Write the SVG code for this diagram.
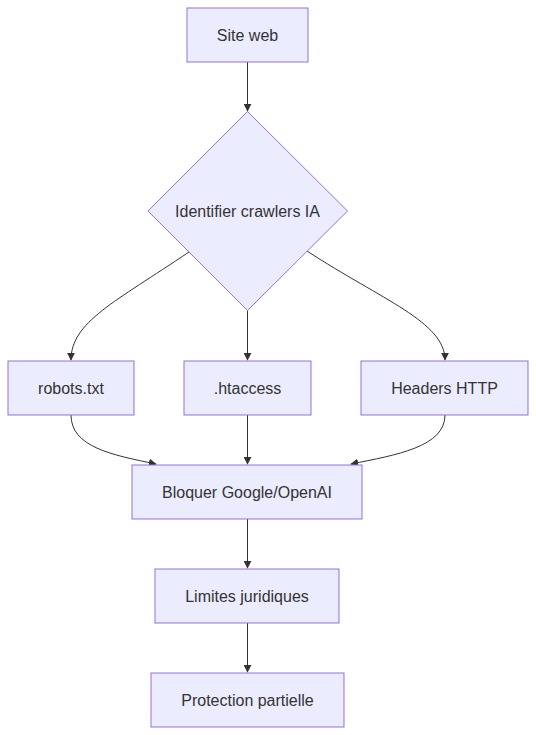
<svg xmlns="http://www.w3.org/2000/svg" width="536" height="735" viewBox="0 0 536 735">
<defs>
<style>
.node rect, .node polygon { fill: #ECECFF; stroke: #9370DB; stroke-width: 1; }
.node text { font-family: "Liberation Sans", Arial, sans-serif; font-size: 16px; fill: #333333; text-anchor: middle; dominant-baseline: central; }
.edge { fill: none; stroke: #333333; stroke-width: 1; }
</style>
<marker id="arrow" viewBox="0 0 10 10" refX="9" refY="5" markerWidth="8" markerHeight="8" markerUnits="userSpaceOnUse" orient="auto">
<path d="M0,0 L10,5 L0,10 z" fill="#333333"/>
</marker>
</defs>
<rect width="536" height="735" fill="#ffffff"/>
<g id="connectors">
<path class="edge" d="M247.5,62 L247.5,111" marker-end="url(#arrow)"/>
<path class="edge" d="M189,252 C115,302 71,322 71,360" marker-end="url(#arrow)"/>
<path class="edge" d="M247.5,310.5 L247.5,360" marker-end="url(#arrow)"/>
<path class="edge" d="M307,251 C382,300 445,322 445,360" marker-end="url(#arrow)"/>
<path class="edge" d="M71,415 C71,447 112,455 156,464" marker-end="url(#arrow)"/>
<path class="edge" d="M247.5,415 L247.5,464" marker-end="url(#arrow)"/>
<path class="edge" d="M445,415 C445,447 396,455 351,464" marker-end="url(#arrow)"/>
<path class="edge" d="M247.5,519 L247.5,568" marker-end="url(#arrow)"/>
<path class="edge" d="M247.5,623 L247.5,672" marker-end="url(#arrow)"/>
</g>
<g id="site-web" class="node"><rect x="187" y="8" width="121" height="54"/><text x="247.5" y="35">Site web</text></g>
<g id="identifier" class="node"><polygon points="247.5,111.5 347.5,211 247.5,310.5 148,211"/><text x="247.5" y="211">Identifier crawlers IA</text></g>
<g id="robots" class="node"><rect x="8" y="361" width="126" height="54"/><text x="71" y="388">robots.txt</text></g>
<g id="htaccess" class="node"><rect x="184" y="361" width="127" height="54"/><text x="247.5" y="388">.htaccess</text></g>
<g id="headers" class="node"><rect x="361" y="361" width="167" height="54"/><text x="444.5" y="388">Headers HTTP</text></g>
<g id="bloquer" class="node"><rect x="132" y="465" width="230" height="54"/><text x="247" y="492">Bloquer Google/OpenAI</text></g>
<g id="limites" class="node"><rect x="155" y="569" width="184" height="54"/><text x="247" y="596">Limites juridiques</text></g>
<g id="protection" class="node"><rect x="151" y="673" width="193" height="54"/><text x="247.5" y="700">Protection partielle</text></g>
</svg>
